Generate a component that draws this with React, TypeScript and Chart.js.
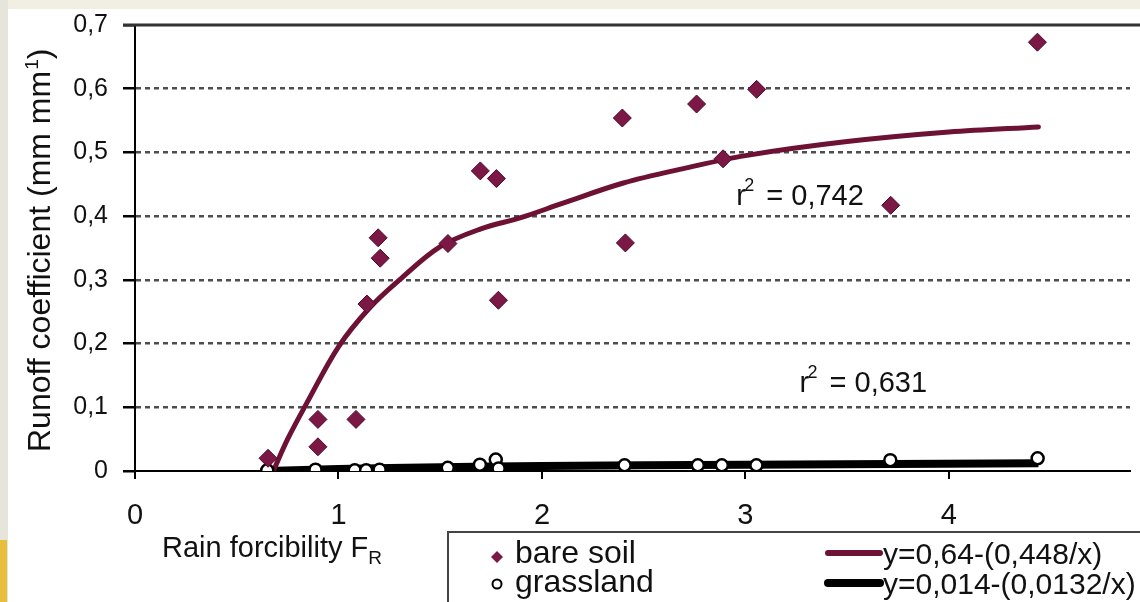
import React, { useEffect, useRef } from 'react';
import { Chart, registerables } from 'chart.js';

Chart.register(...registerables);

// ---- data ----
const bareSoilX = [0.654, 0.899, 0.899, 1.086, 1.14, 1.195, 1.205, 1.538, 1.697, 1.776, 1.786, 2.395, 2.41, 2.76, 2.89, 3.055, 3.714, 4.435];
const bareSoilY = [0.02, 0.081, 0.038, 0.081, 0.262, 0.366, 0.334, 0.357, 0.471, 0.459, 0.268, 0.554, 0.358, 0.576, 0.49, 0.599, 0.417, 0.673];

const grassX = [0.65, 0.887, 1.08, 1.136, 1.202, 1.537, 1.695, 1.773, 1.787, 2.406, 2.766, 2.884, 3.054, 3.712, 4.436];
const grassY = [0.001, 0.002, 0.001, 0.001, 0.002, 0.005, 0.01, 0.018, 0.004, 0.009, 0.009, 0.009, 0.009, 0.017, 0.02];

const bareFitX = [0.68, 0.75, 0.85, 1.0, 1.15, 1.3, 1.5, 1.7, 1.9, 2.1, 2.4, 2.7, 3.0, 3.5, 4.0, 4.44];
const bareFitY = [0.0, 0.05, 0.11, 0.195, 0.255, 0.3, 0.352, 0.38, 0.398, 0.42, 0.452, 0.475, 0.495, 0.517, 0.532, 0.54];

const grassFitX = [0.65, 1.0, 1.5, 2.0, 3.0, 4.44];
const grassFitY = [0.0, 0.003, 0.006, 0.008, 0.01, 0.012];

const xTickLabels = ['0', '1', '2', '3', '4'];
const yTickLabels = ['0', '0,1', '0,2', '0,3', '0,4', '0,5', '0,6', '0,7'];

const seriesNames = ['bare soil', 'grassland'];
const fitLabels = ['y=0,64-(0,448/x)', 'y=0,014-(0,0132/x)'];
const r2Values = ['0,742', '0,631'];
const r2AnchorX = [2.955, 3.266];
const r2AnchorY = [0.417, 0.124];

const xTitleMain = 'Rain forcibility F';
const xTitleSub = 'R';
const yTitleMain = 'Runoff coefficient (mm mm';
const yTitleSup = '1';
const yTitleEnd = ')';

const FONT = '"Liberation Sans", Arial, sans-serif';
const MAROON = '#6d1234';
const MAROON_PT = '#7b1846';

const toPts = (xs: number[], ys: number[]) => xs.map((x, i) => ({ x, y: ys[i] }));

const decorPlugin = {
  id: 'decor',
  beforeDraw(chart: any) {
    const ctx = chart.ctx;
    ctx.save();
    ctx.fillStyle = '#ffffff';
    ctx.fillRect(0, 0, chart.width, chart.height);
    ctx.fillStyle = '#f1efe3';
    ctx.fillRect(0, 0, chart.width, 9);
    ctx.fillStyle = '#e5e5dc';
    ctx.fillRect(0, 0, 8, chart.height);
    ctx.fillStyle = '#e8bf3c';
    ctx.fillRect(0, 540, 7, chart.height - 540);
    ctx.restore();
  },
  afterDraw(chart: any) {
    const ctx = chart.ctx;
    const xs = chart.scales.x;
    const ys = chart.scales.y;
    const area = chart.chartArea;
    ctx.save();

    // top frame line
    ctx.strokeStyle = '#333';
    ctx.lineWidth = 3;
    ctx.beginPath();
    ctx.moveTo(123, area.top);
    ctx.lineTo(chart.width, area.top);
    ctx.stroke();

    ctx.fillStyle = '#111';
    ctx.textBaseline = 'alphabetic';
    ctx.textAlign = 'left';

    // y title (rotated)
    ctx.save();
    ctx.translate(50, 452);
    ctx.rotate(-Math.PI / 2);
    ctx.font = `32px ${FONT}`;
    ctx.fillText(yTitleMain, 0, 0);
    let w = ctx.measureText(yTitleMain).width;
    ctx.font = `19px ${FONT}`;
    ctx.fillText(yTitleSup, w + 1, -12);
    w += ctx.measureText(yTitleSup).width + 1;
    ctx.font = `32px ${FONT}`;
    ctx.fillText(yTitleEnd, w, 0);
    ctx.restore();

    // x title with subscript
    ctx.font = `29px ${FONT}`;
    ctx.fillText(xTitleMain, 162, 557);
    const xw = ctx.measureText(xTitleMain).width;
    ctx.font = `19px ${FONT}`;
    ctx.fillText(xTitleSub, 162 + xw, 564);

    // r² annotations
    for (let i = 0; i < r2Values.length; i++) {
      const px = xs.getPixelForValue(r2AnchorX[i]);
      const py = ys.getPixelForValue(r2AnchorY[i]);
      ctx.font = `29px ${FONT}`;
      ctx.fillText('r', px, py);
      ctx.font = `18px ${FONT}`;
      ctx.fillText('2', px + 8, py - 14);
      ctx.font = `29px ${FONT}`;
      ctx.fillText('= ' + r2Values[i], px + 30, py);
    }

    // legend box
    ctx.fillStyle = '#ffffff';
    ctx.fillRect(448, 532, chart.width - 448, chart.height - 532);
    ctx.strokeStyle = '#444';
    ctx.lineWidth = 2;
    ctx.beginPath();
    ctx.moveTo(448, chart.height + 2);
    ctx.lineTo(448, 532);
    ctx.lineTo(chart.width + 2, 532);
    ctx.stroke();

    // legend markers
    ctx.fillStyle = MAROON_PT;
    ctx.beginPath();
    ctx.moveTo(497, 551);
    ctx.lineTo(503, 557);
    ctx.lineTo(497, 563);
    ctx.lineTo(491, 557);
    ctx.closePath();
    ctx.fill();
    ctx.fillStyle = '#fff';
    ctx.strokeStyle = '#000';
    ctx.lineWidth = 2;
    ctx.beginPath();
    ctx.arc(497, 584, 4.5, 0, Math.PI * 2);
    ctx.fill();
    ctx.stroke();

    ctx.fillStyle = '#111';
    ctx.font = `32px ${FONT}`;
    ctx.fillText(seriesNames[0], 515, 563);
    ctx.fillText(seriesNames[1], 515, 592);

    ctx.lineCap = 'round';
    ctx.strokeStyle = MAROON;
    ctx.lineWidth = 6;
    ctx.beginPath();
    ctx.moveTo(828, 553);
    ctx.lineTo(880, 553);
    ctx.stroke();
    ctx.strokeStyle = '#000';
    ctx.lineWidth = 8;
    ctx.beginPath();
    ctx.moveTo(828, 583);
    ctx.lineTo(880, 583);
    ctx.stroke();

    ctx.fillStyle = '#111';
    ctx.font = `30px ${FONT}`;
    ctx.fillText(fitLabels[0], 883, 564);
    ctx.fillText(fitLabels[1], 883, 594);

    ctx.restore();
  },
};

export default function App() {
  const canvasRef = useRef<HTMLCanvasElement | null>(null);

  useEffect(() => {
    const canvas = canvasRef.current;
    if (!canvas) return;
    const chart = new Chart(canvas, {
      type: 'scatter',
      data: {
        datasets: [
          {
            label: seriesNames[0],
            data: toPts(bareSoilX, bareSoilY),
            pointStyle: 'rectRot',
            pointRadius: 9,
            backgroundColor: MAROON_PT,
            borderColor: '#4f0a2a',
            borderWidth: 1,
            showLine: false,
            order: 0,
          },
          {
            label: seriesNames[1],
            data: toPts(grassX, grassY),
            pointStyle: 'circle',
            pointRadius: 6,
            backgroundColor: '#ffffff',
            borderColor: '#000000',
            borderWidth: 2.5,
            showLine: false,
            order: 0,
          },
          {
            label: fitLabels[0],
            data: toPts(bareFitX, bareFitY),
            showLine: true,
            pointRadius: 0,
            borderColor: MAROON,
            borderWidth: 5,
            tension: 0.35,
            borderCapStyle: 'round',
            fill: false,
            order: 1,
          },
          {
            label: fitLabels[1],
            data: toPts(grassFitX, grassFitY),
            showLine: true,
            pointRadius: 0,
            borderColor: '#000000',
            borderWidth: 8,
            tension: 0.3,
            fill: false,
            order: 1,
          },
        ],
      },
      options: {
        responsive: false,
        animation: false,
        devicePixelRatio: 1,
        layout: { padding: { top: 25, left: 0, right: 0, bottom: 0 } },
        plugins: {
          legend: { display: false },
          tooltip: { enabled: false },
          title: { display: false },
        },
        scales: {
          x: {
            type: 'linear',
            min: 0,
            max: 4.89,
            afterFit: (scale: any) => {
              scale.height = 131;
            },
            border: { display: true, color: '#000', width: 2 },
            grid: {
              drawOnChartArea: false,
              drawTicks: true,
              tickLength: 8,
              tickColor: '#000',
              lineWidth: 2,
            },
            ticks: {
              stepSize: 1,
              includeBounds: false,
              maxRotation: 0,
              padding: 20,
              color: '#111',
              font: { family: FONT, size: 29 },
              callback: (v: any) => {
                const n = Number(v);
                return Number.isInteger(n) && xTickLabels[n] !== undefined ? xTickLabels[n] : '';
              },
            },
          },
          y: {
            type: 'linear',
            min: 0,
            max: 0.7,
            afterFit: (scale: any) => {
              scale.width = 135;
            },
            border: { display: true, color: '#000', width: 2, dash: [5, 4] },
            grid: {
              drawOnChartArea: true,
              drawTicks: true,
              tickLength: 12,
              tickColor: '#000',
              tickBorderDash: [],
              lineWidth: 2.5,
              color: (c: any) => {
                const v = c.tick ? c.tick.value : 0;
                if (Math.abs(v) < 1e-6 || Math.abs(v - 0.7) < 1e-6) return 'rgba(0,0,0,0)';
                return '#4d4d4d';
              },
            },
            ticks: {
              stepSize: 0.1,
              padding: 15,
              color: '#111',
              font: { family: FONT, size: 25, lineHeight: 0.8 },
              callback: (v: any) => {
                const i = Math.round(Number(v) * 10);
                return yTickLabels[i] !== undefined ? yTickLabels[i] : '';
              },
            },
          },
        },
      },
      plugins: [decorPlugin],
    } as any);
    return () => chart.destroy();
  }, []);

  return (
    <div style={{ position: 'absolute', left: 0, top: 0, width: 1140, height: 602, overflow: 'hidden', background: '#fff' }}>
      <canvas ref={canvasRef} width={1140} height={602} style={{ display: 'block', width: 1140, height: 602 }} />
    </div>
  );
}
